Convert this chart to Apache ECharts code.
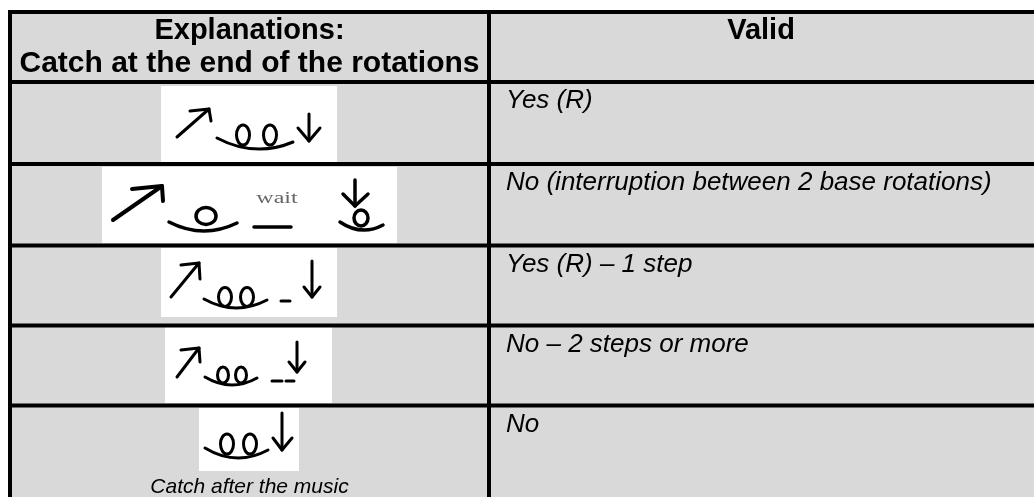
<!DOCTYPE html>
<html>
<head>
<meta charset="utf-8">
<script src="https://cdn.jsdelivr.net/npm/echarts@6/dist/echarts.min.js"></script>
<style>
html,body{margin:0;padding:0;background:#fff;}
#chart{width:1034px;height:497px;}
</style>
</head>
<body>
<div id="chart"></div>
<script>
// ---- table content ----
const headerLeftLines = ['Explanations:', 'Catch at the end of the rotations'];
const headerRight = 'Valid';
const validAnswers = [
  'Yes (R)',
  'No (interruption between 2 base rotations)',
  'Yes (R) \u2013 1 step',
  'No \u2013 2 steps or more',
  'No'
];
const lastRowCaption = 'Catch after the music';
const waitLabel = 'wait';

// ---- layout ----
const tableLeft = 10, tableTop = 12, colDivider = 489, tableRight = 1040, tableBottom = 510;
const rowLines = [82, 164, 245.5, 325.5, 405.5];
const leftCenter = (tableLeft + colDivider) / 2;
const rightCenter = (colDivider + 1033) / 2;
const BLACK = '#000';
const FONT = '"Liberation Sans", Arial, Helvetica, sans-serif';

const g = [];
function rect(x, y, w, h, fill) {
  g.push({type: 'rect', silent: true, shape: {x, y, width: w, height: h}, style: {fill}});
}
function line(x1, y1, x2, y2, lw) {
  g.push({type: 'line', silent: true, shape: {x1, y1, x2, y2},
    style: {stroke: BLACK, lineWidth: lw || 3, lineCap: 'round'}});
}
function poly(points, lw) {
  g.push({type: 'polyline', silent: true, shape: {points},
    style: {stroke: BLACK, lineWidth: lw || 3, lineCap: 'round', lineJoin: 'round', fill: null}});
}
function smile(x1, y1, x2, y2, bottom, lw) {
  g.push({type: 'bezierCurve', silent: true,
    shape: {x1, y1, x2, y2, cpx1: (x1 + x2) / 2, cpy1: 2 * bottom - (y1 + y2) / 2},
    style: {stroke: BLACK, lineWidth: lw || 3, lineCap: 'round', fill: null}});
}
function loop(cx, cy, rx, ry, lw) {
  g.push({type: 'ellipse', silent: true, shape: {cx, cy, rx, ry},
    style: {stroke: BLACK, lineWidth: lw || 3, fill: null}});
}
function text(str, x, y, opts) {
  g.push({type: 'text', silent: true, x, y,
    style: Object.assign({text: str, fill: BLACK, font: opts.font, align: opts.align || 'left',
      verticalAlign: opts.va || 'middle'}, opts.extra || {}),
    scaleX: opts.scaleX || 1});
}

// background of table
rect(tableLeft, tableTop, tableRight - tableLeft, tableBottom - tableTop, '#d9d9d9');

// white boxes for the sketches
rect(161, 86, 176, 76, '#fff');
rect(102, 167, 295, 76, '#fff');
rect(161, 248, 176, 69, '#fff');
rect(165, 327, 167, 76, '#fff');
rect(199, 408, 100, 63, '#fff');

// ---- sketches ----
// row 1
poly([[177, 137], [209, 109]], 3);
poly([[190, 111], [209, 109], [211, 121]], 3);
smile(217, 138, 293, 142, 149, 3);
loop(243, 135, 6.5, 10, 3);
loop(270, 135, 6.5, 10, 3);
line(309, 114, 309, 141, 3);
poly([[298, 128], [309, 141], [320, 128]], 3);

// row 2
poly([[113, 220], [162, 186]], 4);
poly([[132, 189], [162, 186], [163, 201]], 4);
smile(169, 222, 237, 223, 231, 3.5);
loop(206, 216, 10, 8.5, 3.5);
text(waitLabel, 277, 199, {font: '16px "Liberation Serif", serif', align: 'center', scaleX: 1.5,
  extra: {fill: '#666'}});
line(254, 227, 291, 227, 3.5);
line(355, 180, 355, 206, 3.5);
poly([[343, 194], [355, 206], [368, 194]], 3.5);
smile(340, 222, 383, 225, 230, 3.5);
loop(361, 218, 7, 8, 3.5);

// row 3
poly([[171, 297], [199, 263]], 3);
poly([[181, 265], [199, 263], [200, 279]], 3);
smile(204, 299, 267, 300, 308, 3);
loop(225, 297, 6.5, 9.5, 3);
loop(247, 297, 6.5, 9.5, 3);
line(281, 301, 290, 301, 3);
line(312, 261, 312, 297, 3);
poly([[304, 287], [312, 297], [320, 287]], 3);

// row 4
poly([[177, 377], [199, 348]], 3);
poly([[181, 350], [199, 348], [200, 362]], 3);
smile(205, 377, 257, 378, 385, 3);
loop(223, 375, 5.5, 8, 3);
loop(241, 375, 5.5, 8, 3);
line(272, 381, 282, 381, 3);
line(286, 381, 294, 381, 3);
line(297, 342, 297, 372, 3);
poly([[289, 362], [297, 372], [305, 362]], 3);

// row 5
smile(205, 448, 268, 450, 458, 3);
loop(227, 444, 6.5, 10, 3);
loop(250, 444, 6.5, 10, 3);
line(282, 413, 282, 450, 3);
poly([[273, 438], [282, 450], [292, 438]], 3);

// ---- borders ----
rect(tableLeft - 2, tableTop - 2, tableRight - tableLeft + 2, 4, BLACK);
rect(tableLeft - 2, tableTop - 2, 4, tableBottom - tableTop + 2, BLACK);
rect(colDivider - 2, tableTop - 2, 4, tableBottom - tableTop + 2, BLACK);
rowLines.forEach(y => rect(tableLeft - 2, y - 2, tableRight - tableLeft + 2, 4, BLACK));

// ---- header text ----
const headerFont = 'bold 29px ' + FONT;
text(headerLeftLines[0], leftCenter, 31, {font: headerFont, align: 'center'});
text(headerLeftLines[1], leftCenter, 64, {font: 'bold 30px ' + FONT, align: 'center'});
text(headerRight, rightCenter, 31, {font: headerFont, align: 'center'});

// ---- answers ----
const answerFont = 'italic 26px ' + FONT;
const rowTops = [82].concat(rowLines.slice(1));
validAnswers.forEach((a, i) => {
  text(a, 506, rowTops[i] + 19, {font: answerFont});
});
text(lastRowCaption, leftCenter, 487, {font: 'italic 21px ' + FONT, align: 'center'});

const chart = echarts.init(document.getElementById('chart'), null, {renderer: 'canvas'});
chart.setOption({
  backgroundColor: '#fff',
  animation: false,
  graphic: {elements: g}
});
</script>
</body>
</html>
